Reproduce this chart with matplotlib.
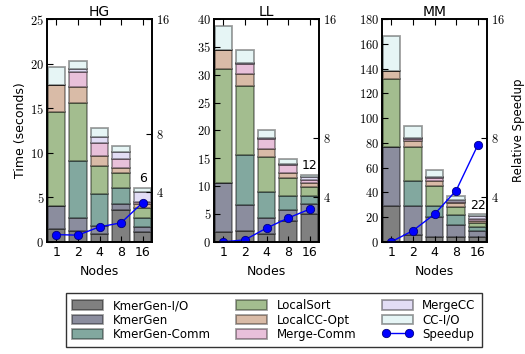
import matplotlib
matplotlib.use('Agg')
import matplotlib.pyplot as plt
import numpy as np
from matplotlib.ticker import FuncFormatter

plt.rcParams['mathtext.fontset'] = 'cm'
plt.rcParams['font.family'] = ['DejaVu Sans']

nodes = ['1', '2', '4', '8', '16']
datasets = ['HG', 'LL', 'MM']
phases = ['KmerGen-I/O', 'KmerGen', 'KmerGen-Comm', 'LocalSort',
          'LocalCC-Opt', 'Merge-Comm', 'MergeCC', 'CC-I/O']
phase_colors = ['#808080', '#8b8d9e', '#82a89f', '#a3bd8f',
                '#d9bba7', '#e8c0da', '#e2ddf5', '#e6f5f5']

# time per phase (rows follow `phases`), columns follow `nodes`
hg_times = [
    [1.4, 1.2, 0.83, 3.56, 1.06],
    [2.6, 1.45, 0.97, 0.68, 0.56],
    [0.0, 6.45, 3.53, 1.76, 1.01],
    [10.6, 6.5, 3.21, 1.68, 1.12],
    [3.0, 1.75, 1.12, 0.63, 0.45],
    [0.0, 1.75, 1.39, 0.98, 0.29],
    [0.0, 0.3, 0.68, 0.75, 1.13],
    [2.0, 0.95, 1.01, 0.71, 0.45],
]
ll_times = [
    [1.8, 1.9, 1.4, 3.7, 5.0],
    [8.8, 4.7, 2.8, 2.0, 1.8],
    [0.0, 9.0, 4.8, 2.6, 1.5],
    [20.4, 12.3, 6.2, 3.2, 1.6],
    [3.5, 2.3, 1.5, 0.9, 0.6],
    [0.0, 1.8, 1.7, 1.45, 0.6],
    [0.0, 0.2, 0.2, 0.2, 0.45],
    [4.2, 2.2, 1.5, 0.75, 0.5],
]
mm_times = [
    [29.3, 5.5, 4.1, 3.5, 3.5],
    [47.4, 23.8, 15.7, 10.3, 5.4],
    [0.0, 19.8, 9.5, 7.9, 3.3],
    [55.0, 27.6, 16.0, 6.8, 3.0],
    [6.5, 4.9, 3.8, 2.7, 1.9],
    [0.0, 1.6, 2.7, 1.0, 1.3],
    [0.0, 1.1, 0.5, 1.7, 2.2],
    [28.3, 9.5, 5.7, 3.5, 1.6],
]

hg_speedup = [1.0, 0.96, 1.54, 1.82, 3.23]
ll_speedup = [1.0, 1.13, 1.92, 2.6, 3.2]
mm_speedup = [1.0, 1.75, 2.86, 4.45, 7.5]

top_labels = ['6', '12', '22']
left_limits = [25, 40, 180]
left_steps = [5, 5, 20]
right_bottoms = [0.5, 1.0, 1.0]

all_times = [hg_times, ll_times, mm_times]
all_speedup = [hg_speedup, ll_speedup, mm_speedup]

fig = plt.figure(figsize=(5.25, 3.54), dpi=100)
lefts = [47 / 525, 214 / 525, 382 / 525]
edge = (0, 0, 0, 0.38)
cm_fmt = FuncFormatter(lambda v, p: r'$%d$' % v)

x = np.arange(len(nodes))
for k in range(3):
    ax = fig.add_axes([lefts[k], 0.317, 0.2, 0.629])
    times = np.array(all_times[k])
    bottom = np.zeros(len(nodes))
    for i, name in enumerate(phases):
        ax.bar(x, times[i], 0.8, bottom=bottom, color=phase_colors[i],
               edgecolor=edge, linewidth=1.3, label=name)
        bottom += times[i]
    ax.annotate(top_labels[k], (x[-1], bottom[-1]), xytext=(0, 2),
                textcoords='offset points', ha='center', va='bottom', fontsize=9)
    ax.set_xlim(-0.43, 4.43)
    ax.set_ylim(0, left_limits[k])
    ax.set_yticks(np.arange(0, left_limits[k] + 1, left_steps[k]))
    ax.yaxis.set_major_formatter(cm_fmt)
    ax.set_xticks(x)
    ax.set_xticklabels(nodes)
    ax.tick_params(direction='in', top=True, length=4, labelsize=9, pad=3)
    ax.tick_params(axis='y', labelsize=9, pad=2)
    ax.set_title(datasets[k], fontsize=10, pad=2)
    ax.set_xlabel('Nodes', fontsize=9, labelpad=4)
    if k == 0:
        ax.set_ylabel('Time (seconds)', fontsize=9, labelpad=2)

    ax2 = ax.twinx()
    ax2.plot(x, all_speedup[k], color='#0000ff', marker='o', markersize=6,
             markeredgecolor='#000080', markeredgewidth=0.6, linewidth=1,
             label='Speedup')
    ax2.set_ylim(right_bottoms[k], 16)
    ax2.set_yticks([4, 8, 16])
    ax2.yaxis.set_major_formatter(cm_fmt)
    ax2.tick_params(direction='in', length=4, labelsize=9, pad=3)
    if k == 2:
        ax2.set_ylabel('Relative Speedup', fontsize=8.5, labelpad=5)
    for a in (ax, ax2):
        for s in a.spines.values():
            s.set_linewidth(1.2)
    if k == 0:
        h1, l1 = ax.get_legend_handles_labels()
        h2, l2 = ax2.get_legend_handles_labels()

leg = fig.legend(h1 + h2, l1 + l2, ncol=3, loc='center',
                 bbox_to_anchor=(0.522, 0.096), fontsize=8.5, frameon=True,
                 fancybox=False, edgecolor='black', handlelength=2.6,
                 handleheight=0.9, labelspacing=0.1, columnspacing=2.2,
                 borderpad=0.5, numpoints=2)
leg.get_frame().set_linewidth(1.0)

fig.savefig('out.png', dpi=100)
